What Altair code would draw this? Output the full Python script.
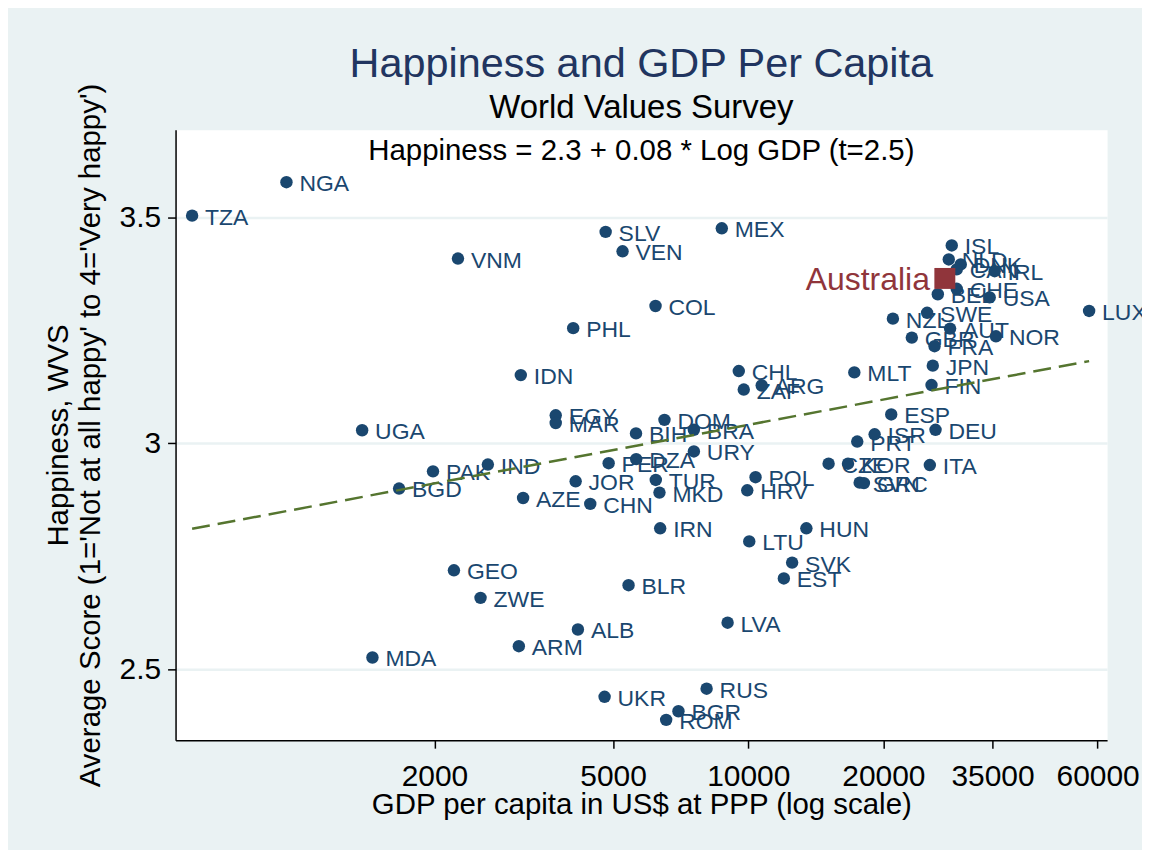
import altair as alt
import pandas as pd

# ---- data ----
codes = ["TZA", "NGA", "VNM", "SLV", "VEN", "MEX", "COL", "PHL", "IDN", "UGA",
         "EGY", "MAR", "CHL", "ZAF", "ARG", "DOM", "BIH", "BRA", "URY", "PER",
         "DZA", "JOR", "TUR", "MKD", "CHN", "POL", "HRV", "IRN", "LTU", "HUN",
         "SVK", "EST", "BLR", "LVA", "ALB", "UKR", "RUS", "BGR", "ROM", "PAK",
         "IND", "BGD", "AZE", "GEO", "ZWE", "ARM", "MDA",
         "ISL", "NLD", "DNK", "CAN", "IRL", "CHE", "BEL", "USA", "SWE", "NZL",
         "AUT", "GBR", "NOR", "FRA", "JPN", "FIN", "MLT", "LUX", "ESP", "DEU",
         "ISR", "PRT", "CZE", "KOR", "ITA", "SVN", "GRC"]
gdp = [577, 936, 2256, 4812, 5248, 8731, 6215, 4074, 3114, 1380,
       3725, 3725, 9526, 9772, 10715, 6507, 5623, 7566, 7566, 4887,
       5629, 4126, 6223, 6342, 4447, 10381, 9949, 6365, 10051, 13474,
       12524, 12003, 5412, 8995, 4174, 4786, 8077, 6991, 6564, 1985,
       2630, 1668, 3151, 2210, 2533, 3083, 1455,
       28400, 27970, 29740, 29130, 35390, 29130, 26440, 34500, 25030, 21000,
       28160, 23140, 35630, 26000, 25770, 25600, 17230, 57450, 20820, 26130,
       19120, 17490, 15100, 16680, 25380, 17710, 18100]
happy = [3.504, 3.578, 3.409, 3.468, 3.425, 3.476, 3.304, 3.255, 3.151, 3.029,
         3.062, 3.045, 3.160, 3.119, 3.128, 3.052, 3.022, 3.030, 2.982, 2.956,
         2.965, 2.916, 2.919, 2.891, 2.866, 2.925, 2.896, 2.812, 2.783, 2.812,
         2.736, 2.701, 2.686, 2.603, 2.588, 2.439, 2.457, 2.407, 2.388, 2.938,
         2.953, 2.900, 2.879, 2.719, 2.658, 2.551, 2.526,
         3.438, 3.407, 3.396, 3.385, 3.381, 3.342, 3.330, 3.323, 3.289, 3.276,
         3.254, 3.234, 3.237, 3.215, 3.172, 3.129, 3.157, 3.293, 3.064, 3.030,
         3.020, 3.004, 2.955, 2.955, 2.952, 2.913, 2.912]

aus_name = ["Australia"]
aus_gdp = [27410]
aus_happy = [3.365]

fit_gdp = [577, 57450]
fit_happy = [2.811, 3.182]

x_ticks = [2000, 5000, 10000, 20000, 35000, 60000]
y_ticks = [2.5, 3.0, 3.5]

title_text = "Happiness and GDP Per Capita"
subtitle_text = "World Values Survey"
equation_text = "Happiness = 2.3 + 0.08 * Log GDP (t=2.5)"
x_title = "GDP per capita in US$ at PPP (log scale)"
y_title = ["Happiness, WVS", "Average Score (1='Not at all happy' to 4='Very happy')"]

# ---- styling ----
NAVY = "#1A476F"
MAROON = "#90353B"
GREEN = "#55752F"
BG = "#EAF2F3"
W, H = 934, 612

df = pd.DataFrame({"code": codes, "gdp": gdp, "happy": happy})
aus = pd.DataFrame({"code": aus_name, "gdp": aus_gdp, "happy": aus_happy})
fit = pd.DataFrame({"gdp": fit_gdp, "happy": fit_happy})
eq = pd.DataFrame({"t": [equation_text]})

xscale = alt.Scale(type="log", domain=[530, 63000], nice=False, zero=False)
yscale = alt.Scale(domain=[2.343, 3.694], nice=False, zero=False)

xaxis = alt.Axis(values=x_ticks, format="d", title=x_title, grid=False,
                 labelFontSize=30, titleFontSize=29.5, titleFontWeight="normal",
                 labelColor="black", titleColor="black", tickColor="black",
                 domainColor="black", domainWidth=1.5, tickWidth=1.5, tickSize=8,
                 labelPadding=13, titlePadding=0, labelFlush=False, labelOverlap=False)
yaxis = alt.Axis(values=y_ticks, format="~g", title=y_title, grid=True,
                 gridColor=BG, gridWidth=2.5,
                 labelFontSize=30, titleFontSize=29.5, titleFontWeight="normal",
                 labelColor="black", titleColor="black", tickColor="black",
                 domainColor="black", domainWidth=1.5, tickWidth=1.5, tickSize=8,
                 labelPadding=7, titlePadding=14, titleLineHeight=32,
                 labelFlush=False, labelOverlap=False)

base = alt.Chart(df).encode(
    x=alt.X("gdp:Q", scale=xscale, axis=xaxis),
    y=alt.Y("happy:Q", scale=yscale, axis=yaxis),
)

points = base.mark_circle(size=155, color=NAVY, opacity=1)
labels = base.mark_text(align="left", baseline="middle", dx=13, dy=2,
                        fontSize=23, color=NAVY).encode(text="code:N")

fit_line = alt.Chart(fit).mark_line(color=GREEN, strokeWidth=2.5,
                                     strokeDash=[18, 8]).encode(
    x=alt.X("gdp:Q", scale=xscale), y=alt.Y("happy:Q", scale=yscale))

aus_pt = alt.Chart(aus).mark_square(size=441, color=MAROON, opacity=1).encode(
    x=alt.X("gdp:Q", scale=xscale), y=alt.Y("happy:Q", scale=yscale))
aus_lab = alt.Chart(aus).mark_text(align="right", baseline="middle", dx=-15, dy=2,
                                   fontSize=32, color=MAROON).encode(
    x=alt.X("gdp:Q", scale=xscale), y=alt.Y("happy:Q", scale=yscale), text="code:N")

eq_text = alt.Chart(eq).mark_text(align="center", baseline="middle", fontSize=29.5,
                                  color="black").encode(
    x=alt.value(W / 2), y=alt.value(21), text="t:N")

chart = alt.layer(points, labels, fit_line, aus_pt, aus_lab, eq_text).properties(
    width=W, height=H,
    title=alt.TitleParams(text=title_text, subtitle=subtitle_text, fontSize=41.5,
                          subtitleFontSize=33, color="#213560", subtitleColor="black",
                          fontWeight="normal", anchor="middle", frame="group",
                          offset=-42, subtitlePadding=7),
    autosize=alt.AutoSizeParams(type="none"),
    padding={"left": 168, "top": 121, "right": 35, "bottom": 109},
).configure(font="Liberation Sans", background=BG).configure_view(
    fill="white", stroke="transparent")

chart.save("out.html", embed_options={"renderer": "svg", "actions": False})
